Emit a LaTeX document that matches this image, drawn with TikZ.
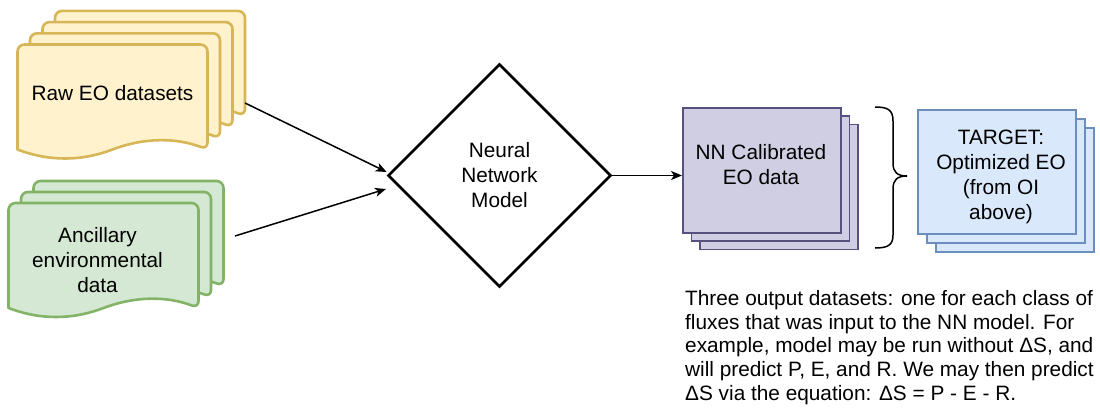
\documentclass[tikz,border=0pt]{standalone}
\usepackage{fontspec}
\setmainfont{Liberation Sans}
\usetikzlibrary{shapes.geometric,arrows.meta}
\definecolor{yfill}{HTML}{FFF2CC}\definecolor{ydraw}{HTML}{D6B656}
\definecolor{gfill}{HTML}{D5E8D4}\definecolor{gdraw}{HTML}{82B366}
\definecolor{pfill}{HTML}{D0CEE2}\definecolor{pdraw}{HTML}{56517E}
\definecolor{bfill}{HTML}{DAE8FC}\definecolor{bdraw}{HTML}{6C8EBF}
\newcommand\docshape[4]{%
  \filldraw[fill=#1, draw=#2, line width=2.6pt, line join=round]
  (#3,#4+105) [rounded corners=7pt] -- (#3,#4) -- (#3+190,#4) -- (#3+190,#4+105) [sharp corners]
  .. controls (#3+158.33,#4+93) and (#3+126.67,#4+93) .. (#3+95,#4+105)
  .. controls (#3+63.33,#4+117) and (#3+31.67,#4+117) .. (#3,#4+105) -- cycle;}
\begin{document}
\begin{tikzpicture}[x=1pt,y=-1pt,
  lbl/.style={font=\fontsize{20.8}{25}\selectfont, align=center, inner sep=0pt},
  arr/.style={line width=1.5pt, -{Stealth[length=11pt,width=9pt,inset=3pt]}},
  pbox/.style={rectangle, draw=pdraw, fill=pfill, line width=1.5pt, minimum width=158pt, minimum height=125pt, anchor=north west, inner sep=0pt},
  bbox/.style={rectangle, draw=bdraw, fill=bfill, line width=1.5pt, minimum width=158pt, minimum height=124pt, anchor=north west, inner sep=0pt}]
\useasboundingbox (0,0) rectangle (1100,407);
% yellow stack
\docshape{yfill}{ydraw}{55}{10.9}
\docshape{yfill}{ydraw}{42.5}{22.1}
\docshape{yfill}{ydraw}{30}{33.3}
\docshape{yfill}{ydraw}{17.5}{44.5}
\node[lbl] (raw) at (112.5,93) {Raw EO datasets};
% green stack
\docshape{gfill}{gdraw}{33.5}{181}
\docshape{gfill}{gdraw}{21}{192}
\docshape{gfill}{gdraw}{8.5}{203}
\node[lbl] (anc) at (97.5,260) {Ancillary\\environmental\\data};
% diamond
\node[diamond, aspect=1, draw, line width=2.6pt, minimum width=223pt, minimum height=223pt, inner sep=0pt, lbl] (nn) at (499.5,175.5) {Neural\\Network\\Model};
% purple stack
\node[pbox] (c3) at (699,123.5) {};
\node[pbox] (c2) at (690.5,115.25) {};
\node[pbox] (c1) at (682,107) {};
\node[lbl] (calib) at (761,165) {NN Calibrated\\EO data};
% blue stack
\node[bbox] (t3) at (935,127) {};
\node[bbox] (t2) at (926,118) {};
\node[bbox] (t1) at (917,109) {};
\node[lbl] (target) at (1001,177) {TARGET:\\Optimized EO\\(from OI\\above)};
% brace
\draw[line width=1.5pt] (875,107) .. controls (888,107) and (893,110) .. (893,121) -- (893,163)
  .. controls (893,172) and (897,176) .. (907,176)
  .. controls (897,176) and (893,180) .. (893,189) -- (893,235)
  .. controls (893,245) and (888,248) .. (875,248);
% connectors
\coordinate (rawout) at (245,103);
\coordinate (ancout) at (235,236);
\coordinate (anctip) at (386,189);
\draw[arr] (rawout) -- ([yshift=3.5pt]nn.west);
\draw[arr] (ancout) -- (anctip);
\draw[arr] (nn.east) -- (nn.east -| c1.west);
% note
\node[anchor=north west, align=left, inner sep=0pt, font=\fontsize{20.8}{23.75}\selectfont] (note) at (685,290)
 {Three output datasets: one for each class of\\fluxes that was input to the NN model. For\\example, model may be run without ΔS, and\\will predict P, E, and R. We may then predict\\ΔS via the equation: ΔS = P - E - R.};
\end{tikzpicture}
\end{document}
